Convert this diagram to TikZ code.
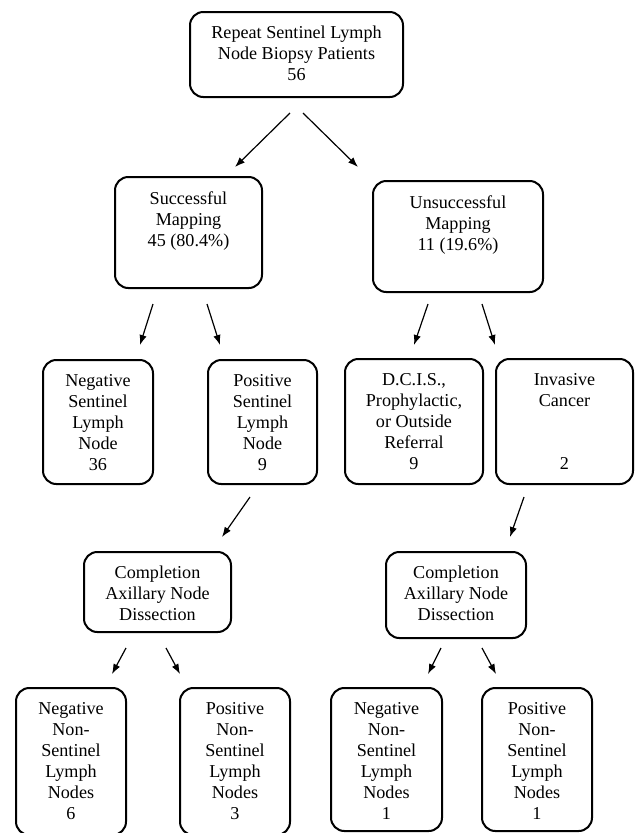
\documentclass[tikz,border=0pt]{standalone}
\usepackage{fontspec}
\setmainfont{Liberation Serif}
\usetikzlibrary{arrows.meta,calc}
\begin{document}
\begin{tikzpicture}[x=0.75pt,y=-0.75pt,
  box/.style={draw, line width=1.5pt, rounded corners=10pt, outer sep=0pt, inner sep=0pt},
  txt/.style={align=center, inner sep=0pt, font=\fontsize{13.6}{15.75}\selectfont, anchor=north},
  arr/.style={-{Latex[length=7.5pt,width=5.5pt]}, line width=0.9pt}]
\fill[white] (0,0) rectangle (636,833);
\useasboundingbox (0,0) rectangle (636,833);
\begin{scope}
\clip (0,0) rectangle (636,833);
% boxes
\node[box, minimum width=159.75pt, minimum height=63.75pt] (top) at (296.5,54.5) {};
\node[box, minimum width=110.25pt, minimum height=83.25pt] (succ) at (188.5,232.5) {};
\node[box, minimum width=127.5pt, minimum height=83.25pt] (unsucc) at (458,236.5) {};
\node[box, minimum width=82.5pt, minimum height=93pt] (neg) at (98,422) {};
\node[box, minimum width=81.75pt, minimum height=93pt] (pos) at (262.5,422) {};
\node[box, minimum width=103.5pt, minimum height=93.75pt] (dcis) at (414,421.5) {};
\node[box, minimum width=102.75pt, minimum height=93.75pt] (inv) at (564.5,421.5) {};
\node[box, minimum width=110.25pt, minimum height=60pt] (compL) at (157.5,592) {};
\node[box, minimum width=105pt, minimum height=64.5pt] (compR) at (456,595) {};
\node[box, minimum width=82.5pt, minimum height=110.25pt] (b1) at (71,761.5) {};
\node[box, minimum width=82.5pt, minimum height=110.25pt] (b2) at (235,761.5) {};
\node[box, minimum width=83.25pt, minimum height=107.25pt] (b3) at (386.5,759.5) {};
\node[box, minimum width=82.5pt, minimum height=107.25pt] (b4) at (537,759.5) {};
\end{scope}
% texts
\node[txt] (ttop) at ($(top.north)+(0,14)$) {Repeat Sentinel Lymph\\Node Biopsy Patients\\56};
\node[txt] (tsucc) at ($(succ.north)+(0,14)$) {Successful\\Mapping\\45 (80.4\%)};
\node[txt] (tunsucc) at ($(unsucc.north)+(0,14)$) {Unsuccessful\\Mapping\\11 (19.6\%)};
\node[txt] (tneg) at ($(neg.north)+(0,14)$) {Negative\\Sentinel\\Lymph\\Node\\36};
\node[txt] (tpos) at ($(pos.north)+(0,14)$) {Positive\\Sentinel\\Lymph\\Node\\9};
\node[txt] (tdcis) at ($(dcis.north)+(0,14)$) {D.C.I.S.,\\Prophylactic,\\or Outside\\Referral\\9};
\node[txt] (tinv) at ($(inv.north)+(0,14)$) {Invasive\\Cancer\\[31.5pt]2};
\node[txt] (tcompL) at ($(compL.north)+(0,14)$) {Completion\\Axillary Node\\Dissection};
\node[txt] (tcompR) at ($(compR.north)+(0,14)$) {Completion\\Axillary Node\\Dissection};
\node[txt] (tb1) at ($(b1.north)+(0,14)$) {Negative\\Non-\\Sentinel\\Lymph\\Nodes\\6};
\node[txt] (tb2) at ($(b2.north)+(0,14)$) {Positive\\Non-\\Sentinel\\Lymph\\Nodes\\3};
\node[txt] (tb3) at ($(b3.north)+(0,14)$) {Negative\\Non-\\Sentinel\\Lymph\\Nodes\\1};
\node[txt] (tb4) at ($(b4.north)+(0,14)$) {Positive\\Non-\\Sentinel\\Lymph\\Nodes\\1};
% arrow end points
\coordinate (a1s) at (290,113);  \coordinate (a1e) at (235,167);
\coordinate (a2s) at (303,113);  \coordinate (a2e) at (358,167);
\coordinate (a3s) at (153,304);  \coordinate (a3e) at (140,345);
\coordinate (a4s) at (207,304);  \coordinate (a4e) at (220,345);
\coordinate (a5s) at (428,304);  \coordinate (a5e) at (414,345);
\coordinate (a6s) at (482,304);  \coordinate (a6e) at (495,345);
\coordinate (a7s) at (250,497);  \coordinate (a7e) at (222,537);
\coordinate (a8s) at (524,497);  \coordinate (a8e) at (510,537);
\coordinate (a9s) at (126,648);  \coordinate (a9e) at (112,674);
\coordinate (a10s) at (166,648); \coordinate (a10e) at (180,674);
\coordinate (a11s) at (441,648); \coordinate (a11e) at (428,674);
\coordinate (a12s) at (482,648); \coordinate (a12e) at (496,674);
\foreach \i in {1,...,12} {\draw[arr] (a\i s) -- (a\i e);}
\end{tikzpicture}
\end{document}
